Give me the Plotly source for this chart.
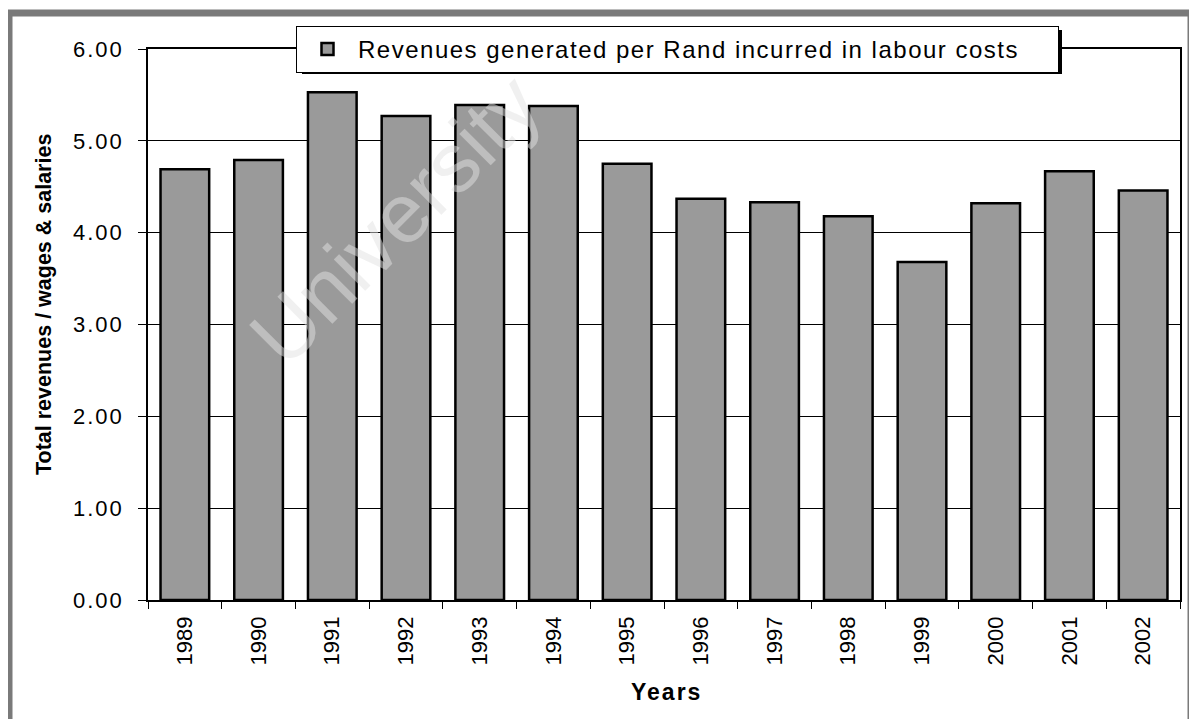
import plotly.graph_objects as go

# data
years = ['1989', '1990', '1991', '1992', '1993', '1994', '1995',
         '1996', '1997', '1998', '1999', '2000', '2001', '2002']
revenue_per_rand = [4.69, 4.79, 5.53, 5.27, 5.39, 5.38, 4.75,
                    4.37, 4.33, 4.18, 3.68, 4.32, 4.67, 4.46]
y_ticks = [0, 1, 2, 3, 4, 5, 6]
y_tick_labels = ['0.00', '1.00', '2.00', '3.00', '4.00', '5.00', '6.00']
series_name = 'Revenues generated per Rand incurred in labour costs'

# the page body adds an 8px margin, so the figure is laid out 8px smaller
OFF = 8
W, H = 1197 - OFF, 719 - OFF
L, R, T, B = 148 - OFF, 17, 49 - OFF, 119
PW, PH = W - L - R, H - T - B


# helpers: screen pixel (as measured on the reference) -> paper coords
def px_x(x):
    return (x - OFF - L) / PW


def px_y(y):
    return (H - B - (y - OFF)) / PH


def spaced(text, sp):
    return f'<span style="letter-spacing:{sp}px">{text}</span>'


FONT = 'Liberation Sans, Arial, sans-serif'

fig = go.Figure()
fig.add_trace(go.Bar(
    x=years,
    y=revenue_per_rand,
    name=spaced(series_name, 1.5),
    marker=dict(color='#9a9a9a', line=dict(color='black', width=2.5)),
    showlegend=True,
))

fig.update_layout(
    width=W, height=H,
    margin=dict(l=L, r=R, t=T, b=B, autoexpand=False),
    paper_bgcolor='white',
    plot_bgcolor='white',
    bargap=0.34,
    font=dict(family=FONT, color='black'),
    showlegend=True,
    legend=dict(
        orientation='h',
        x=px_x(296), xanchor='left',
        y=px_y(26), yanchor='top',
        bgcolor='white',
        bordercolor='black',
        borderwidth=1,
        font=dict(size=24, family=FONT),
        entrywidth=695,
        itemwidth=51,
    ),
)

fig.update_xaxes(
    type='category',
    showline=True, linecolor='black', linewidth=1.5, mirror=True,
    ticks='outside', tickson='boundaries', ticklen=7, tickcolor='black',
    tickangle=-90,
    tickfont=dict(size=22),
    ticklabelstandoff=6,
    showgrid=False,
)

fig.update_yaxes(
    range=[0, 6],
    tickvals=y_ticks,
    ticktext=[spaced(t, 2) for t in y_tick_labels],
    showline=True, linecolor='black', linewidth=1.5, mirror=True,
    ticks='outside', ticklen=8, tickcolor='black',
    tickfont=dict(size=22),
    ticklabelstandoff=10,
    showgrid=True, gridcolor='black', gridwidth=1,
    zeroline=False,
)

# axis titles
fig.add_annotation(
    text='<b>Total revenues / wages &amp; salaries</b>',
    xref='paper', yref='paper', x=px_x(44), y=px_y(305),
    xanchor='center', yanchor='middle',
    textangle=-90, showarrow=False, font=dict(size=21.5),
)
fig.add_annotation(
    text='<b>' + spaced('Years', 2) + '</b>',
    xref='paper', yref='paper', x=px_x(666), y=px_y(692),
    xanchor='center', yanchor='middle',
    showarrow=False, font=dict(size=23),
)

# faint scan watermark
fig.add_annotation(
    text='University',
    xref='paper', yref='paper', x=px_x(395), y=px_y(220),
    xanchor='center', yanchor='middle',
    textangle=-45, showarrow=False,
    font=dict(size=84, color='rgba(225,225,225,0.5)'),
)

# legend drop shadow and outer grey frame
fig.add_shape(type='rect', xref='paper', yref='paper',
              x0=px_x(302), x1=px_x(1062), y0=px_y(74), y1=px_y(30),
              fillcolor='black', line=dict(width=0), layer='above')
fig.add_shape(type='rect', xref='paper', yref='paper',
              x0=px_x(9), x1=px_x(1191), y0=px_y(760), y1=px_y(13),
              line=dict(color='#7a7a7a', width=7), layer='above')

fig.write_html('out.html')
